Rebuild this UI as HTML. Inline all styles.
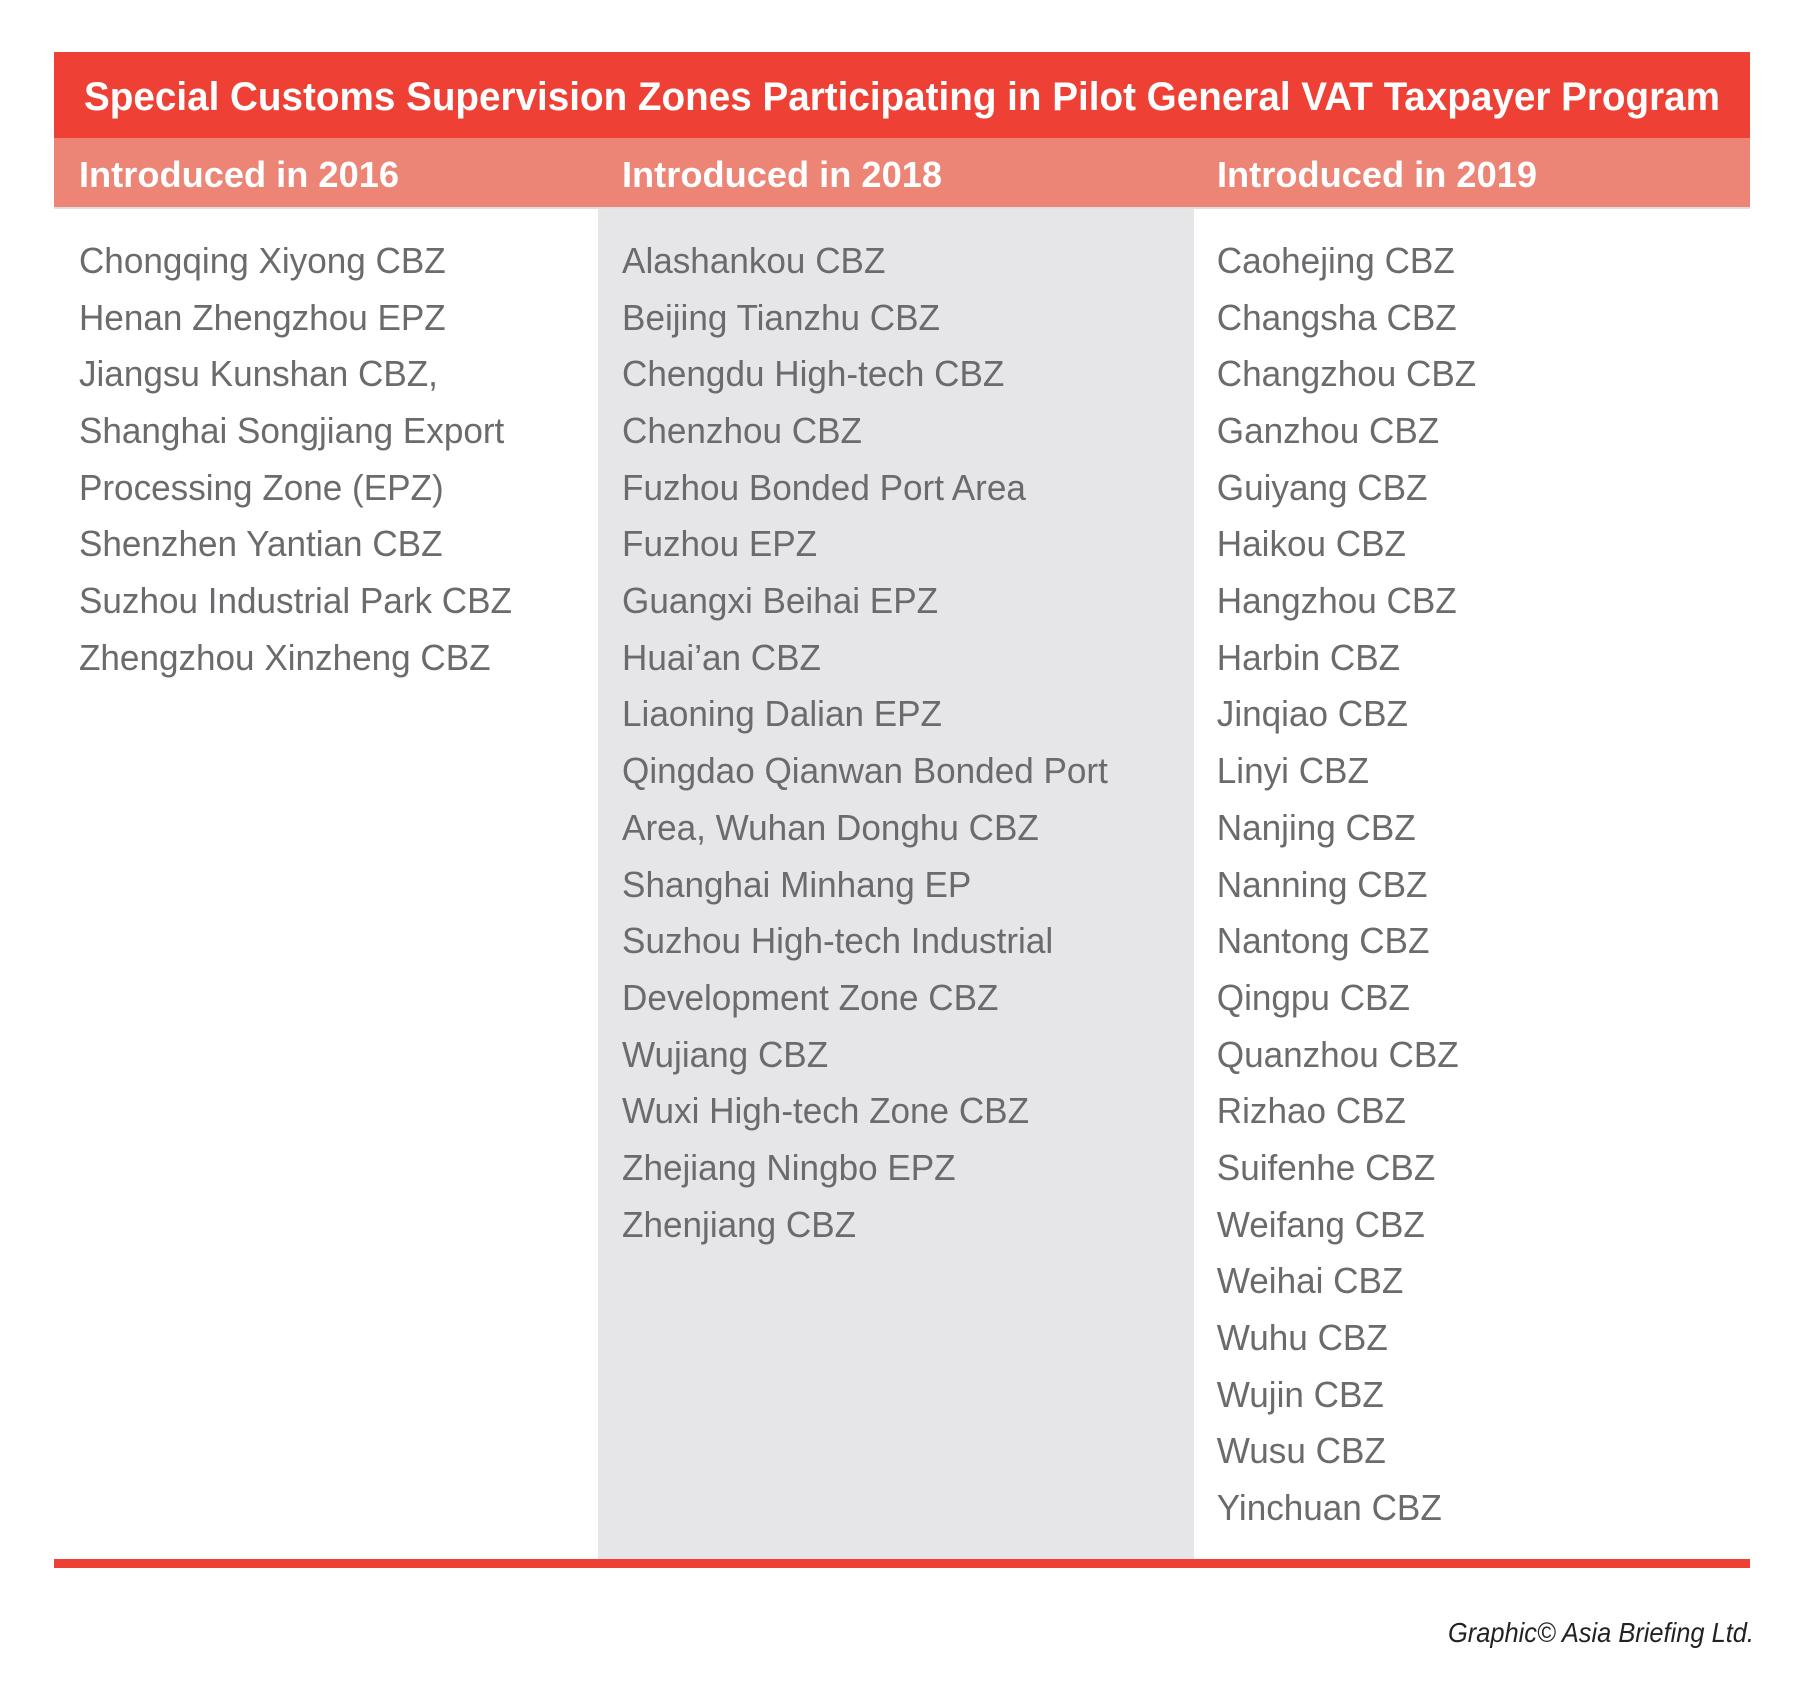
<!DOCTYPE html>
<html><head><meta charset="utf-8"><style>
html,body{margin:0;padding:0;background:#fff;width:1800px;height:1692px;overflow:hidden}
svg{display:block}
.it{font-family:"Liberation Sans",sans-serif;font-size:36px;fill:#6a6b6d}
.hd{font-family:"Liberation Sans",sans-serif;font-size:36px;font-weight:bold;fill:#fff}
</style></head><body>
<svg width="1800" height="1692" viewBox="0 0 1800 1692" xmlns="http://www.w3.org/2000/svg">
<rect x="54" y="52" width="1696" height="86" fill="#ee4034"/>
<rect x="54" y="138" width="1696" height="69" fill="#ec8576"/>
<rect x="54" y="207" width="1696" height="2" fill="#e8dcdc"/>
<rect x="598" y="209" width="596" height="1350" fill="#e6e6e8"/>
<rect x="54" y="1559" width="1696" height="9" fill="#ee4034"/>
<text x="84" y="110" textLength="1636" lengthAdjust="spacingAndGlyphs" font-family="Liberation Sans, sans-serif" font-size="40" font-weight="bold" fill="#fff">Special Customs Supervision Zones Participating in Pilot General VAT Taxpayer Program</text>
<text class="hd" x="79" y="187" textLength="320" lengthAdjust="spacingAndGlyphs">Introduced in 2016</text>
<text class="hd" x="622" y="187" textLength="320" lengthAdjust="spacingAndGlyphs">Introduced in 2018</text>
<text class="hd" x="1217" y="187" textLength="320" lengthAdjust="spacingAndGlyphs">Introduced in 2019</text>
<g transform="scale(0.975,1)">
<g class="it">
<text x="81" y="273">Chongqing Xiyong CBZ</text>
<text x="81" y="330">Henan Zhengzhou EPZ</text>
<text x="81" y="386">Jiangsu Kunshan CBZ,</text>
<text x="81" y="443">Shanghai Songjiang Export</text>
<text x="81" y="500">Processing Zone (EPZ)</text>
<text x="81" y="556">Shenzhen Yantian CBZ</text>
<text x="81" y="613">Suzhou Industrial Park CBZ</text>
<text x="81" y="670">Zhengzhou Xinzheng CBZ</text>
</g>
<g class="it">
<text x="638" y="273">Alashankou CBZ</text>
<text x="638" y="330">Beijing Tianzhu CBZ</text>
<text x="638" y="386">Chengdu High-tech CBZ</text>
<text x="638" y="443">Chenzhou CBZ</text>
<text x="638" y="500">Fuzhou Bonded Port Area</text>
<text x="638" y="556">Fuzhou EPZ</text>
<text x="638" y="613">Guangxi Beihai EPZ</text>
<text x="638" y="670">Huai’an CBZ</text>
<text x="638" y="726">Liaoning Dalian EPZ</text>
<text x="638" y="783">Qingdao Qianwan Bonded Port</text>
<text x="638" y="840">Area, Wuhan Donghu CBZ</text>
<text x="638" y="897">Shanghai Minhang EP</text>
<text x="638" y="953">Suzhou High-tech Industrial</text>
<text x="638" y="1010">Development Zone CBZ</text>
<text x="638" y="1067">Wujiang CBZ</text>
<text x="638" y="1123">Wuxi High-tech Zone CBZ</text>
<text x="638" y="1180">Zhejiang Ningbo EPZ</text>
<text x="638" y="1237">Zhenjiang CBZ</text>
</g>
<g class="it">
<text x="1248" y="273">Caohejing CBZ</text>
<text x="1248" y="330">Changsha CBZ</text>
<text x="1248" y="386">Changzhou CBZ</text>
<text x="1248" y="443">Ganzhou CBZ</text>
<text x="1248" y="500">Guiyang CBZ</text>
<text x="1248" y="556">Haikou CBZ</text>
<text x="1248" y="613">Hangzhou CBZ</text>
<text x="1248" y="670">Harbin CBZ</text>
<text x="1248" y="726">Jinqiao CBZ</text>
<text x="1248" y="783">Linyi CBZ</text>
<text x="1248" y="840">Nanjing CBZ</text>
<text x="1248" y="897">Nanning CBZ</text>
<text x="1248" y="953">Nantong CBZ</text>
<text x="1248" y="1010">Qingpu CBZ</text>
<text x="1248" y="1067">Quanzhou CBZ</text>
<text x="1248" y="1123">Rizhao CBZ</text>
<text x="1248" y="1180">Suifenhe CBZ</text>
<text x="1248" y="1237">Weifang CBZ</text>
<text x="1248" y="1293">Weihai CBZ</text>
<text x="1248" y="1350">Wuhu CBZ</text>
<text x="1248" y="1407">Wujin CBZ</text>
<text x="1248" y="1463">Wusu CBZ</text>
<text x="1248" y="1520">Yinchuan CBZ</text>
</g>
</g>
<text x="1754" y="1642" text-anchor="end" font-family="Liberation Sans, sans-serif" font-size="28" font-style="italic" fill="#222" textLength="306" lengthAdjust="spacingAndGlyphs">Graphic© Asia Briefing Ltd.</text>
</svg>
</body></html>
